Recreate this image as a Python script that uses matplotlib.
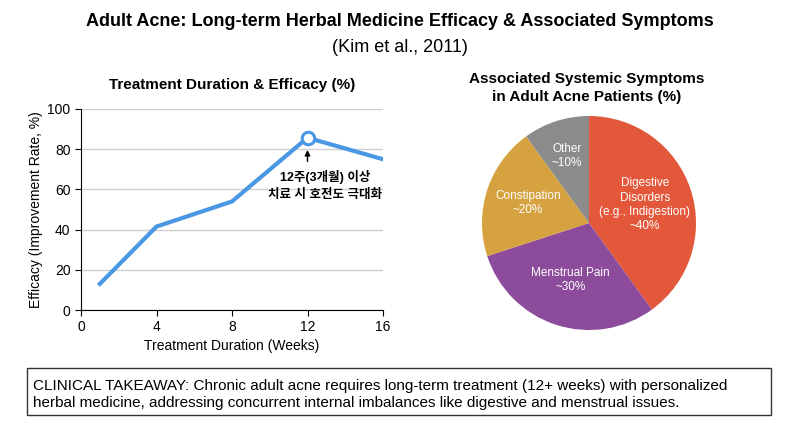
import numpy as np
import matplotlib
matplotlib.use("Agg")
import matplotlib.pyplot as plt
from matplotlib.patches import Rectangle

plt.rcParams['font.family'] = ['Liberation Sans', 'Noto Sans CJK KR', 'DejaVu Sans']

# Data
# ----------------
weeks = [1, 4, 8, 12, 16]
efficacy = [13, 41.5, 54, 85.7, 75]
peak_week = 12
peak_value = 85.7

symptom_labels = ["Digestive\nDisorders\n(e.g., Indigestion)\n~40%",
                  "Menstrual Pain\n~30%",
                  "Constipation\n~20%",
                  "Other\n~10%"]
symptom_share = [40, 30, 20, 10]
symptom_colors = ['#E3583B', '#8D4B9C', '#D6A23F', '#8B8B8B']
label_radius = [0.55, 0.56, 0.6, 0.66]

main_title = "Adult Acne: Long-term Herbal Medicine Efficacy & Associated Symptoms"
sub_title = "(Kim et al., 2011)"
takeaway = ("CLINICAL TAKEAWAY: Chronic adult acne requires long-term treatment (12+ weeks) with personalized\n"
            "herbal medicine, addressing concurrent internal imbalances like digestive and menstrual issues.")

W, H = 800, 436
fig = plt.figure(figsize=(W / 100, H / 100), dpi=100)
fig.patch.set_facecolor('white')

# Titles
# ----------------
fig.text(0.5, 1 - 22 / H, main_title, ha='center', va='center', fontsize=13, fontweight='bold')
fig.text(0.5, 1 - 48 / H, sub_title, ha='center', va='center', fontsize=13)

# Line chart
# ----------------
ax = fig.add_axes([81 / W, 1 - 310 / H, 302 / W, 201 / H])
ax.plot(weeks, efficacy, color='#4A97E4', lw=3, solid_joinstyle='miter', zorder=3)
ax.plot([peak_week], [peak_value], 'o', ms=9, mfc='white', mec='#4A97E4', mew=2.2, zorder=4)
ax.set_xlim(0, 16)
ax.set_ylim(0, 100)
ax.set_xticks([0, 4, 8, 12, 16])
ax.set_yticks([0, 20, 40, 60, 80, 100])
ax.yaxis.grid(True, color='#cfcfcf', lw=1)
ax.set_axisbelow(True)
for s in ['top', 'right']:
    ax.spines[s].set_visible(False)
ax.tick_params(labelsize=10, length=4)
ax.set_xlabel("Treatment Duration (Weeks)", fontsize=10, labelpad=3)
ax.set_ylabel("Efficacy (Improvement Rate, %)", fontsize=10, labelpad=3)
fig.text(232 / W, 1 - 85 / H, "Treatment Duration & Efficacy (%)", ha='center', va='center',
         fontsize=11, fontweight='bold')

ax.annotate("", xy=(peak_week, 81), xytext=(peak_week, 72.5),
            arrowprops=dict(arrowstyle='-|>', color='black', lw=1, mutation_scale=8))
ax.text(12.95, 62, "12주(3개월) 이상\n치료 시 호전도 극대화", ha='center', va='center',
        fontsize=9, fontweight='bold', linespacing=1.5,
        family=['Liberation Sans', 'Noto Sans CJK KR'])

# Pie chart
# ----------------
r = 107
pax = fig.add_axes([(589 - r) / W, 1 - (223 + r) / H, 2 * r / W, 2 * r / H])
wedges, _ = pax.pie(symptom_share, colors=symptom_colors, startangle=90, counterclock=False,
                    wedgeprops=dict(linewidth=0))
for w, lab, rad in zip(wedges, symptom_labels, label_radius):
    ang = np.deg2rad((w.theta1 + w.theta2) / 2)
    pax.text(rad * np.cos(ang), rad * np.sin(ang), lab, ha='center', va='center',
             color='white', fontsize=8.5, linespacing=1.25)
pax.set_xlim(-1, 1)
pax.set_ylim(-1, 1)
pax.set_aspect('equal')
fig.text(587 / W, 1 - 88 / H, "Associated Systemic Symptoms\nin Adult Acne Patients (%)",
         ha='center', va='center', fontsize=11, fontweight='bold', linespacing=1.3)

# Takeaway box
# ----------------
fig.patches.append(Rectangle((27 / W, 1 - 415 / H), 744 / W, 47 / H, transform=fig.transFigure,
                             fill=False, edgecolor='#333333', lw=1))
fig.text(33 / W, 1 - 394.5 / H, takeaway, ha='left', va='center', fontsize=11, linespacing=1.35)

fig.savefig("out.png", dpi=100)
